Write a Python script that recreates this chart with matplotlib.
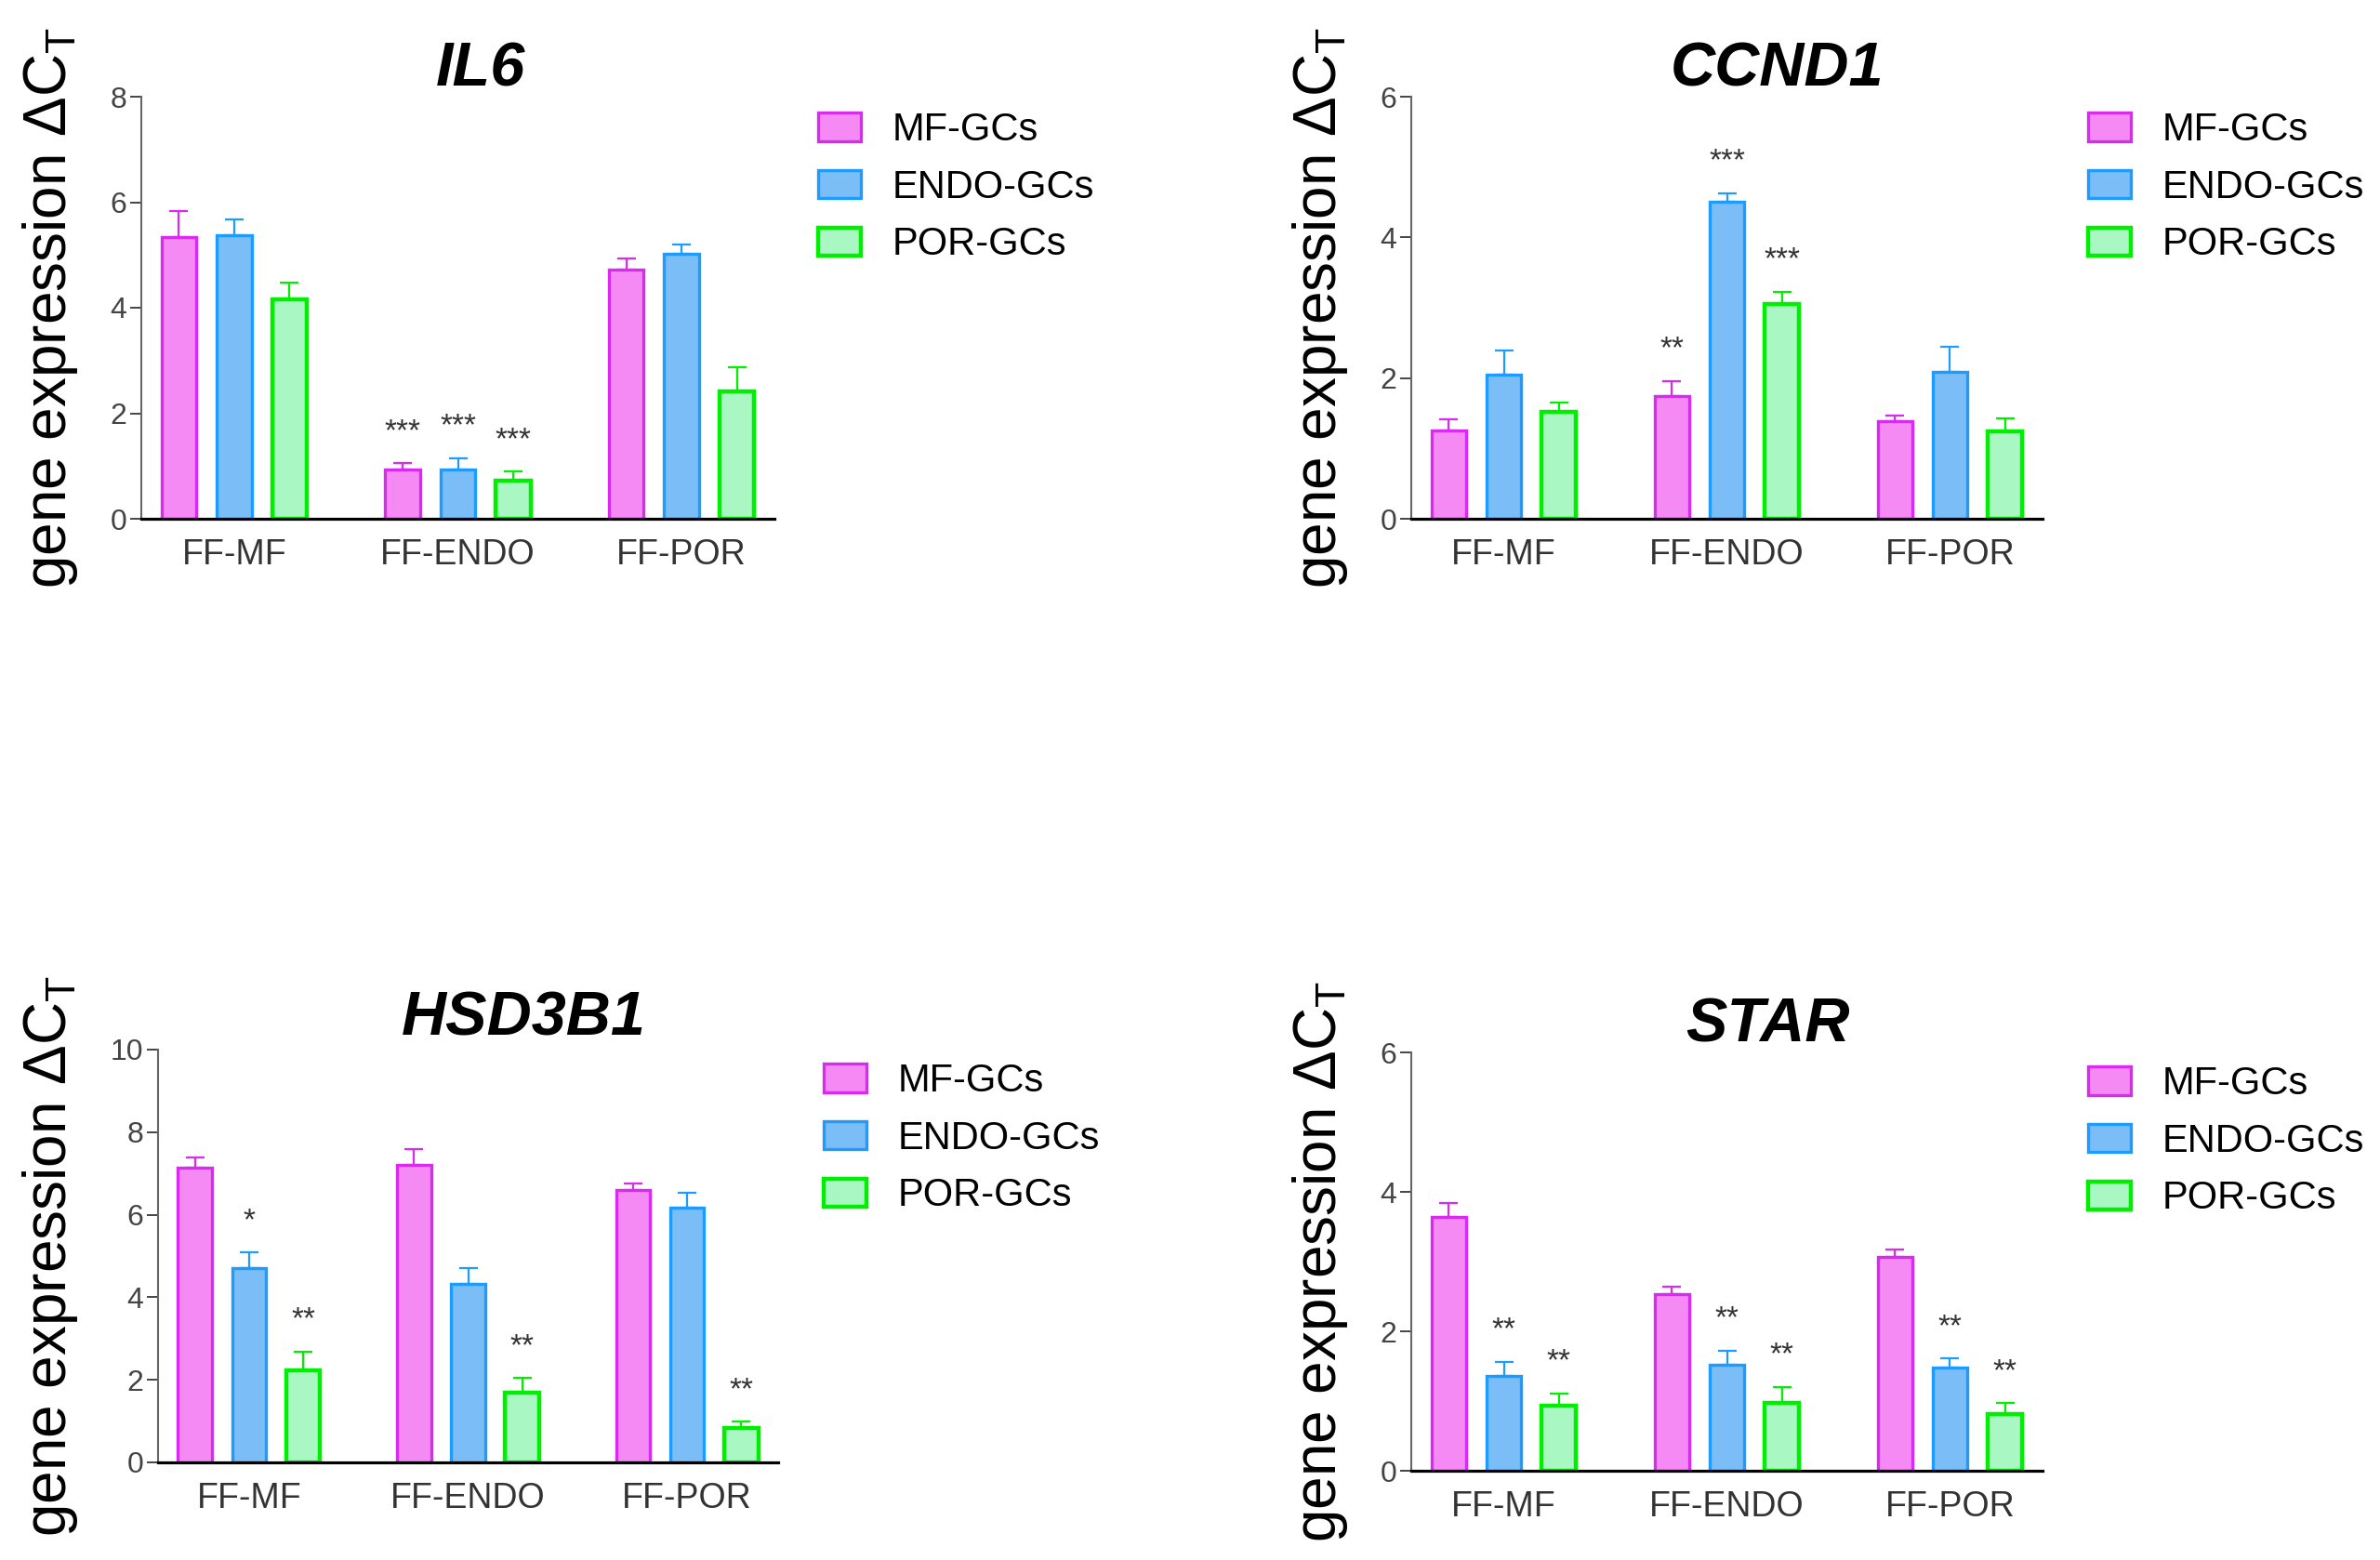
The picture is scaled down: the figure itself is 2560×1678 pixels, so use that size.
import matplotlib
matplotlib.use('Agg')
import matplotlib.pyplot as plt
import numpy as np

plt.rcParams['font.family'] = ['Liberation Sans', 'DejaVu Sans']
plt.rcParams['mathtext.fontset'] = 'custom'
plt.rcParams['mathtext.rm'] = 'Liberation Sans'

# data
groups = ['FF-MF', 'FF-ENDO', 'FF-POR']
series = ['MF-GCs', 'ENDO-GCs', 'POR-GCs']

il6_mean = [[5.34, 0.94, 4.73], [5.38, 0.94, 5.03], [4.16, 0.73, 2.42]]
il6_err = [[0.50, 0.11, 0.20], [0.29, 0.20, 0.17], [0.31, 0.16, 0.46]]
il6_sig = [['', '***', ''], ['', '***', ''], ['', '***', '']]

ccnd1_mean = [[1.25, 1.74, 1.39], [2.05, 4.51, 2.09], [1.52, 3.05, 1.24]]
ccnd1_err = [[0.16, 0.22, 0.08], [0.34, 0.12, 0.35], [0.13, 0.18, 0.19]]
ccnd1_sig = [['', '**', ''], ['', '***', ''], ['', '***', '']]

hsd_mean = [[7.13, 7.21, 6.61], [4.71, 4.33, 6.16], [2.22, 1.69, 0.84]]
hsd_err = [[0.26, 0.38, 0.14], [0.38, 0.38, 0.38], [0.47, 0.35, 0.14]]
hsd_sig = [['', '', ''], ['*', '', ''], ['**', '**', '**']]

star_mean = [[3.64, 2.53, 3.07], [1.36, 1.52, 1.48], [0.94, 0.97, 0.82]]
star_err = [[0.20, 0.11, 0.11], [0.20, 0.20, 0.13], [0.17, 0.23, 0.15]]
star_sig = [['', '', ''], ['**', '**', '**'], ['**', '**', '**']]

face_cols = ['#F58AF5', '#7BBEF7', '#A9F7C3']
edge_cols = ['#D92BF0', '#1E9BFF', '#00EE00']

W, H = 2560, 1678
fig = plt.figure(figsize=(W / 100, H / 100), dpi=100)


def px_rect(l, t, r, b):
    return [l / W, 1 - b / H, (r - l) / W, (b - t) / H]


# gene, means, errs, stars, ymax, step, axes box (px), title pos (axes frac),
# legend top-left (px), ylabel right edge (px)
panels = [
    ('IL6', il6_mean, il6_err, il6_sig, 8, 2, (152, 104, 833, 558), (0.536, 1.062), (880, 120), 86),
    ('CCND1', ccnd1_mean, ccnd1_err, ccnd1_sig, 6, 2, (1518, 104, 2197, 558), (0.58, 1.062), (2246, 120), 1452),
    ('HSD3B1', hsd_mean, hsd_err, hsd_sig, 10, 2, (170, 1129, 837, 1573), (0.59, 1.074), (886, 1143), 86),
    ('STAR', star_mean, star_err, star_sig, 6, 2, (1518, 1132, 2197, 1582), (0.564, 1.064), (2246, 1146), 1452),
]

x = np.arange(len(groups))
width = 0.155
offsets = [-0.247, 0, 0.247]

for gene, means, errs, sigs, ymax, step, box, tpos, lpos, lab_x in panels:
    ax = fig.add_axes(px_rect(*box))
    handles = []
    for i in range(3):
        lw = 3.2 if i == 2 else 2.4
        b = ax.bar(x + offsets[i], means[i], width, color=face_cols[i],
                   edgecolor=edge_cols[i], linewidth=lw, label=series[i], zorder=2)
        handles.append(b)
        ax.errorbar(x + offsets[i], means[i], yerr=[np.zeros(3), errs[i]], fmt='none',
                    ecolor=edge_cols[i], elinewidth=1.6, capsize=7.5, capthick=1.6, zorder=3)
        for j in range(3):
            if sigs[i][j]:
                ax.text(x[j] + offsets[i], means[i][j] + errs[i][j] + 0.075 * ymax, sigs[i][j],
                        ha='center', va='center', fontsize=24, color='#333333')

    ax.set_xlim(-0.415, 2.415)
    ax.set_ylim(0, ymax)
    ax.set_yticks(np.arange(0, ymax + 0.1, step))
    ax.set_xticks(x)
    ax.set_xticklabels(groups)
    ax.tick_params(axis='y', direction='out', length=8.5, width=1.4, colors='#444444',
                   labelsize=23, pad=3)
    ax.tick_params(axis='x', length=0, pad=15, labelsize=27, labelcolor='#333333')
    for s in ['top', 'right']:
        ax.spines[s].set_visible(False)
    ax.spines['left'].set_color('#666666')
    ax.spines['left'].set_linewidth(1.5)
    ax.spines['bottom'].set_color('black')
    ax.spines['bottom'].set_linewidth(2.3)
    ax.spines['bottom'].set_zorder(4)

    ax.text(tpos[0], tpos[1], gene, transform=ax.transAxes, ha='center', va='center',
            fontsize=48, fontweight='bold', fontstyle='italic')

    ax.set_ylabel('gene expression \u0394C$_{\\mathregular{T}}$', fontsize=46)
    ax.yaxis.set_label_coords((lab_x - box[0]) / (box[2] - box[0]), 0.5)

    ax.legend(handles=handles, loc='upper left',
              bbox_to_anchor=(lpos[0] / W, 1 - lpos[1] / H), bbox_transform=fig.transFigure,
              frameon=False, fontsize=30, handlelength=1.1, handleheight=0.75,
              handletextpad=0.8, labelspacing=0.52, borderpad=0, borderaxespad=0)

fig.savefig('out.png', dpi=100)
